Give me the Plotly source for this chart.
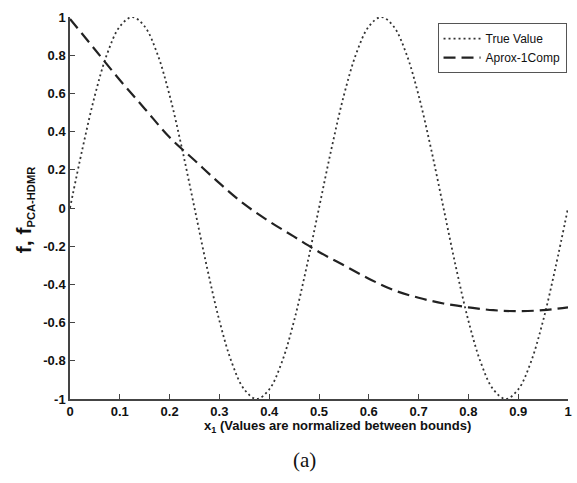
import plotly.graph_objects as go

# Sample positions (normalized x1) and the exact response
x_true = [i / 40 for i in range(41)]
y_true = [0.00, 0.31, 0.59, 0.81, 0.95, 1.00, 0.95, 0.81, 0.59, 0.31,
          0.00, -0.31, -0.59, -0.81, -0.95, -1.00, -0.95, -0.81, -0.59, -0.31,
          0.00, 0.31, 0.59, 0.81, 0.95, 1.00, 0.95, 0.81, 0.59, 0.31,
          0.00, -0.31, -0.59, -0.81, -0.95, -1.00, -0.95, -0.81, -0.59, -0.31,
          0.00]

# One-component PCA-HDMR approximation
x_apx = [i / 20 for i in range(21)]
y_apx = [0.99, 0.83, 0.67, 0.52, 0.37, 0.25, 0.13, 0.02, -0.07, -0.15,
         -0.23, -0.30, -0.37, -0.43, -0.47, -0.50, -0.52, -0.535, -0.54, -0.535,
         -0.52]

x_ticks = [0, 0.1, 0.2, 0.3, 0.4, 0.5, 0.6, 0.7, 0.8, 0.9, 1]
x_tick_text = ["0", "0.1", "0.2", "0.3", "0.4", "0.5", "0.6", "0.7", "0.8", "0.9", "1"]
y_ticks = [-1, -0.8, -0.6, -0.4, -0.2, 0, 0.2, 0.4, 0.6, 0.8, 1]
y_tick_text = ["-1", "-0.8", "-0.6", "-0.4", "-0.2", "0", "0.2", "0.4", "0.6", "0.8", "1"]

SANS = "Arial"
SERIF = "Times New Roman"

fig = go.Figure()
fig.add_trace(go.Scatter(
    x=x_true, y=y_true, mode="lines", name="True Value",
    line=dict(color="#333333", width=1.8, dash="2px,3px", shape="spline"),
    cliponaxis=False,
))
fig.add_trace(go.Scatter(
    x=x_apx, y=y_apx, mode="lines", name="Aprox-1Comp",
    line=dict(color="#222222", width=2.2, dash="12px,6px", shape="spline"),
    cliponaxis=False,
))

tick_font = dict(family=SANS, size=13, color="#111111", weight="bold")
axis_common = dict(
    showline=True, linecolor="#444444", linewidth=1.5,
    ticks="inside", ticklen=5, tickcolor="#444444", tickwidth=1,
    showgrid=False, zeroline=False, tickfont=tick_font,
)

fig.update_xaxes(range=[0, 1], tickvals=x_ticks, ticktext=x_tick_text, **axis_common)
fig.update_yaxes(range=[-1, 1], tickvals=y_ticks, ticktext=y_tick_text, **axis_common)

fig.update_layout(
    width=577, height=483,
    margin=dict(l=70, r=5, t=17, b=84),
    paper_bgcolor="white", plot_bgcolor="white",
    showlegend=True,
    legend=dict(
        x=0.738, y=0.984, xanchor="left", yanchor="top",
        bgcolor="white", bordercolor="#555555", borderwidth=1,
        font=dict(family=SANS, size=12, color="#111111"),
        itemwidth=37, tracegroupgap=0,
    ),
    annotations=[
        dict(
            text="x<sub>1</sub> (Values are normalized between bounds)",
            xref="paper", yref="paper", x=0.538, y=-0.071,
            xanchor="center", yanchor="middle", showarrow=False,
            font=dict(family=SANS, size=13, color="#111111", weight="bold"),
        ),
        dict(
            text="<span style='font-size:21px'>f, f</span><sub>PCA-HDMR</sub>",
            xref="paper", yref="paper", x=-0.093, y=0.496, textangle=-90,
            xanchor="center", yanchor="middle", showarrow=False,
            font=dict(family=SANS, size=16, color="#111111", weight="bold"),
        ),
        dict(
            text="(a)",
            xref="paper", yref="paper", x=0.47, y=-0.16,
            xanchor="center", yanchor="middle", showarrow=False,
            font=dict(family=SERIF, size=21, color="#111111"),
        ),
    ],
)

fig.write_html("out.html")
